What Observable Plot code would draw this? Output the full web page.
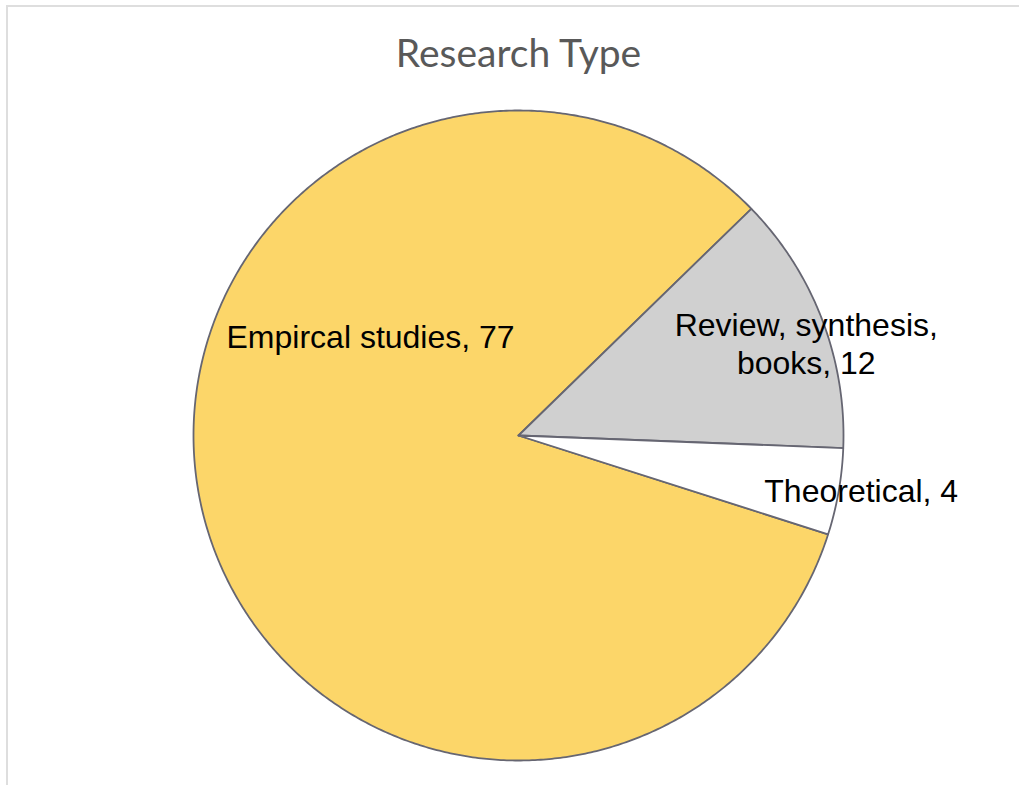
<!DOCTYPE html>
<html>
<head>
<meta charset="utf-8">
<script src="https://cdn.jsdelivr.net/npm/d3@7"></script>
<script src="https://cdn.jsdelivr.net/npm/@observablehq/plot@0.6"></script>
<style>
  body { margin: 0; background: #fff; }
  #chart { position: relative; width: 1019px; height: 785px; overflow: hidden; }
  #chart svg { position: absolute; left: 0; top: 0; }
  #chart .edge {
    position: absolute; left: 6px; top: 5px; right: 0; bottom: 0;
    border-top: 2px solid #dedede; border-left: 2px solid #dedede;
    pointer-events: none;
  }
</style>
</head>
<body>
<div id="chart"><div class="edge"></div></div>
<script>
// Publication counts by research type
const chartTitle = "Research Type";
const categories = ["Empircal studies", "Review, synthesis, books", "Theoretical"];
const counts = [77, 12, 4];
const sliceColors = ["#fcd669", "#d0d0d0", "#ffffff"];

const W = 1019, H = 785;
const cx = 518, cy = 435, R = 325;          // pie centre and radius in pixels
const startDeg = 107.7;                     // first slice starts here (clockwise from 12 o'clock)

// Label anchors, polar [degrees clockwise from top, radius as fraction of R]
const labelPolar = [[304, 0.549], [72.2, 0.93], [99.1, 1.068]];

const rows = categories.map((category, i) => ({category, count: counts[i]}));

const pie = d3.pie().sort(null).value(d => d.count)
  .startAngle(startDeg * Math.PI / 180)
  .endAngle(startDeg * Math.PI / 180 + 2 * Math.PI);
const arcs = pie(rows);

// Outline of each slice as a closed polygon in unit-circle coordinates (y up)
const step = Math.PI / 360;
const outline = arcs.flatMap(a => {
  const pts = [{category: a.data.category, x: 0, y: 0}];
  const n = Math.max(2, Math.ceil((a.endAngle - a.startAngle) / step));
  for (let k = 0; k <= n; ++k) {
    const t = a.startAngle + (a.endAngle - a.startAngle) * k / n;
    pts.push({category: a.data.category, x: Math.sin(t), y: Math.cos(t)});
  }
  pts.push({category: a.data.category, x: 0, y: 0});
  return pts;
});

const labels = arcs.map((a, i) => {
  const [deg, r] = labelPolar[i];
  const t = deg * Math.PI / 180;
  const name = a.data.category.replace("synthesis, ", "synthesis,\n");
  return {x: r * Math.sin(t), y: r * Math.cos(t), text: `${name}, ${a.data.count}`};
});

const chart = Plot.plot({
  width: W,
  height: H,
  margin: 0,
  style: {background: "transparent", overflow: "visible"},
  x: {domain: [-cx / R, (W - cx) / R], range: [0, W], axis: null},
  y: {domain: [-(H - cy) / R, cy / R], range: [H, 0], axis: null},
  color: {domain: categories, range: sliceColors},
  marks: [
    Plot.line(outline, {
      x: "x", y: "y", z: "category", fill: "category",
      stroke: "#666672", strokeWidth: 1.8, curve: "linear", strokeLinejoin: "round"
    }),
    Plot.text(labels, {
      x: "x", y: "y", text: "text",
      fontFamily: "Liberation Sans, Arial, sans-serif", fontSize: 32,
      fill: "#000", lineHeight: 1.17, textAnchor: "middle", lineAnchor: "middle"
    }),
    Plot.text([chartTitle], {
      x: () => 0, frameAnchor: "top", dy: 54, text: d => d,
      fontFamily: "Lato, Open Sans, sans-serif", fontSize: 39,
      fill: "#595959", textAnchor: "middle", lineAnchor: "middle"
    })
  ]
});

document.getElementById("chart").prepend(chart);
</script>
</body>
</html>
